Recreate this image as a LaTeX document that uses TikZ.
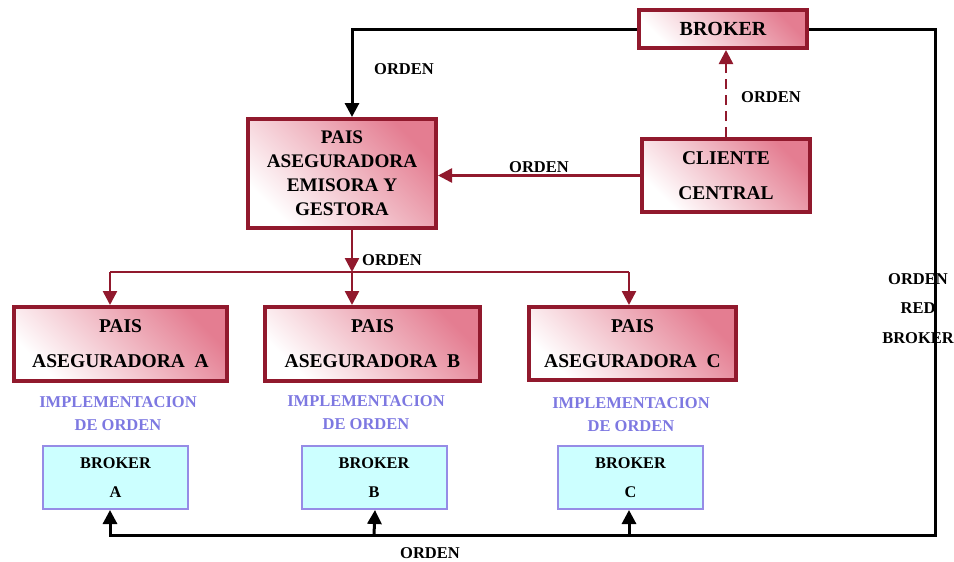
\documentclass[tikz,border=0pt]{standalone}
\usepackage{fontspec}
\setmainfont{Liberation Serif}
\usetikzlibrary{arrows.meta}
\definecolor{wine}{RGB}{145,25,45}
\definecolor{rosy}{RGB}{228,125,145}
\definecolor{lav}{RGB}{150,140,230}
\definecolor{cyanfill}{RGB}{204,255,255}
\definecolor{implc}{RGB}{125,120,225}
\begin{document}
\begin{tikzpicture}[x=1pt,y=-1pt,
  redbox/.style={draw=wine, line width=4pt, left color=white, right color=rosy, shading angle=135,
    align=center, inner sep=0pt},
  bluebox/.style={draw=lav, line width=2pt, fill=cyanfill, align=center, inner sep=0pt,
    minimum width=145pt, minimum height=63pt, font=\bfseries\fontsize{16.3}{29}\selectfont},
  lbl/.style={font=\bfseries\fontsize{16.5}{29.5}\selectfont, inner sep=0pt, align=center},
  impl/.style={font=\bfseries\fontsize{16.5}{23.5}\selectfont, text=implc, inner sep=0pt, align=center},
  tip/.style={-{Triangle[length=14pt,width=14pt]}},
  blk/.style={draw=black, line width=3pt},
  red/.style={draw=wine, line width=2.5pt}]
\useasboundingbox (0,0) rectangle (954,562);

% boxes
\node[redbox, minimum width=168pt, minimum height=38pt, font=\bfseries\fontsize{20}{24}\selectfont] (broker) at (723,29) {BROKER};
\node[redbox, minimum width=188pt, minimum height=109pt, font=\bfseries\fontsize{19.2}{24}\selectfont] (main) at (342,173.5) {PAIS\\ASEGURADORA\\EMISORA Y\\GESTORA};
\node[redbox, minimum width=168pt, minimum height=73pt, font=\bfseries\fontsize{19.5}{35}\selectfont] (cli) at (726,175.5) {CLIENTE\\CENTRAL};
\node[redbox, minimum width=213pt, minimum height=74pt, font=\bfseries\fontsize{19.5}{35}\selectfont] (pA) at (120.5,344) {PAIS\\ASEGURADORA\ \ A};
\node[redbox, minimum width=215pt, minimum height=74pt, font=\bfseries\fontsize{19.5}{35}\selectfont] (pB) at (372.5,344) {PAIS\\ASEGURADORA\ \ B};
\node[redbox, minimum width=207pt, minimum height=73pt, font=\bfseries\fontsize{19.5}{35}\selectfont] (pC) at (632.5,343.5) {PAIS\\ASEGURADORA\ \ C};

\node[impl] (iA) at (118,413.5) {IMPLEMENTACION\\DE ORDEN};
\node[impl] (iB) at (366,412.5) {IMPLEMENTACION\\DE ORDEN};
\node[impl] (iC) at (631,414.5) {IMPLEMENTACION\\DE ORDEN};

\node[bluebox] (bA) at (115.5,477.5) {BROKER\\A};
\node[bluebox] (bB) at (374,477.5) {BROKER\\B};
\node[bluebox] (bC) at (630.5,477.5) {BROKER\\C};

% labels
\node[lbl] (l1) at (404,69) {ORDEN};
\node[lbl] (l2) at (771,97) {ORDEN};
\node[lbl] (l3) at (539,167) {ORDEN};
\node[lbl] (l4) at (392,260) {ORDEN};
\node[lbl] (l5) at (430,553) {ORDEN};
\node[lbl] (l6) at (918,308.5) {ORDEN\\RED\\BROKER};

% connectors
\coordinate (bl) at (935,535);
\draw[blk,tip] (broker.west) -| ([xshift=10pt]main.north);
\draw[blk,tip] (broker.east) -| (bl) -| ([xshift=-5.5pt]bA.south);
\draw[blk,tip] (bB.south |- bl) -- ([xshift=1pt]bB.south);
\draw[blk,tip] ([xshift=-1.5pt]bC.south |- bl) -- ([xshift=-1.5pt]bC.south);

\draw[red,tip,dash pattern=on 10pt off 6pt] (cli.north) -- (cli.north |- broker.south);
\draw[red,tip] (cli.west) -- (main.east |- cli.west);

\coordinate (j) at (352,272);
\coordinate (jA) at (110,272);
\coordinate (jC) at (629,272);
\draw[red] (jA) -- (jC);
\draw[red,tip] ([xshift=10pt]main.south) -- (j);
\draw[red,tip] (jA) -- (jA |- pA.north);
\draw[red,tip] (j) -- (j |- pB.north);
\draw[red,tip] (jC) -- (jC |- pC.north);
\end{tikzpicture}
\end{document}
